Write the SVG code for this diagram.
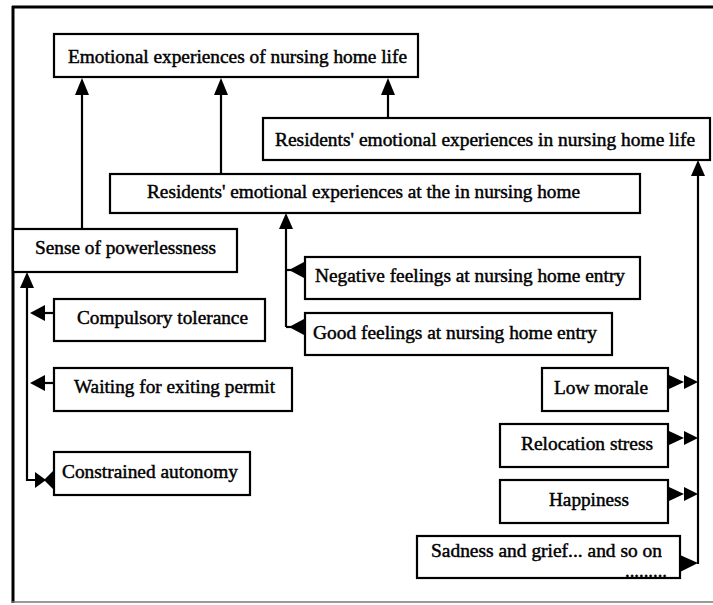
<svg xmlns="http://www.w3.org/2000/svg" width="713" height="605" viewBox="0 0 713 605">
<style>
.box{fill:#fff;stroke:#000;stroke-width:2.2}
.t{font-family:"Liberation Serif","Times New Roman",serif;font-size:19px;fill:#000;stroke:#000;stroke-width:0.45}
.ln{fill:none;stroke:#000;stroke-width:2.2}
.ah{fill:#000;stroke:none}
</style>
<rect x="0" y="0" width="713" height="605" fill="#fff"/>
<g id="frame">
<line x1="12" y1="7" x2="713" y2="7" stroke="#000" stroke-width="3"/>
<line x1="13" y1="6" x2="13" y2="603" stroke="#000" stroke-width="3"/>
<line x1="12" y1="602" x2="713" y2="602" stroke="#777" stroke-width="1.5"/>
</g>
<g id="connectors">
<line class="ln" x1="82" y1="229" x2="82" y2="92"/>
<polygon class="ah" points="82,78 75,95 89,95"/>
<line class="ln" x1="221" y1="174" x2="221" y2="92"/>
<polygon class="ah" points="221,78 214,95 228,95"/>
<line class="ln" x1="388" y1="118" x2="388" y2="92"/>
<polygon class="ah" points="388,78 381,95 395,95"/>
<polyline class="ln" points="27,285 27,480 36,480"/>
<polygon class="ah" points="27,272 20,288 34,288"/>
<line class="ln" x1="42" y1="313" x2="54" y2="313"/>
<polygon class="ah" points="30,313 45,305 45,321"/>
<line class="ln" x1="42" y1="383" x2="54" y2="383"/>
<polygon class="ah" points="30,383 45,375 45,391"/>
<polygon class="ah" points="35,472 46,480 35,488"/>
<polygon class="ah" points="54,470 44,480 54,490"/>
<line class="ln" x1="286" y1="226" x2="286" y2="327"/>
<polygon class="ah" points="286,213 279,229 293,229"/>
<line class="ln" x1="286" y1="270" x2="305" y2="270"/>
<polygon class="ah" points="289,270 304,262 304,278"/>
<line class="ln" x1="286" y1="327" x2="305" y2="327"/>
<polygon class="ah" points="289,327 304,319 304,335"/>
<line class="ln" x1="698" y1="172" x2="698" y2="564"/>
<polygon class="ah" points="698,160 691,176 705,176"/>
<polygon class="ah" points="669,375 684,382 669,389"/>
<polygon class="ah" points="684,375 698,382 684,389"/>
<polygon class="ah" points="669,431 684,438 669,445"/>
<polygon class="ah" points="684,431 698,438 684,445"/>
<polygon class="ah" points="669,487 684,494 669,501"/>
<polygon class="ah" points="684,487 698,494 684,501"/>
<polygon class="ah" points="680,555 698,563 680,572"/>
</g>
<g id="n-top"><rect class="box" x="54" y="34" width="364" height="43"/><text class="t" x="68" y="63" textLength="339" lengthAdjust="spacingAndGlyphs">Emotional experiences of nursing home life</text></g>
<g id="n-life"><rect class="box" x="263" y="118" width="447" height="42"/><text class="t" x="275" y="146" textLength="420" lengthAdjust="spacingAndGlyphs">Residents' emotional experiences in nursing home life</text></g>
<g id="n-at"><rect class="box" x="110" y="174" width="530" height="39"/><text class="t" x="147" y="198" textLength="433" lengthAdjust="spacingAndGlyphs">Residents' emotional experiences at the in nursing home</text></g>
<g id="n-power"><rect class="box" x="13" y="229" width="224" height="43"/><text class="t" x="35" y="254" textLength="181" lengthAdjust="spacingAndGlyphs">Sense of powerlessness</text></g>
<g id="n-comp"><rect class="box" x="54" y="299" width="211" height="42"/><text class="t" x="77" y="324" textLength="171" lengthAdjust="spacingAndGlyphs">Compulsory tolerance</text></g>
<g id="n-neg"><rect class="box" x="305" y="257" width="335" height="42"/><text class="t" x="315" y="282" textLength="310" lengthAdjust="spacingAndGlyphs">Negative feelings at nursing home entry</text></g>
<g id="n-good"><rect class="box" x="305" y="313" width="307" height="42"/><text class="t" x="313" y="339" textLength="284" lengthAdjust="spacingAndGlyphs">Good feelings at nursing home entry</text></g>
<g id="n-wait"><rect class="box" x="54" y="368" width="238" height="43"/><text class="t" x="74" y="393" textLength="201" lengthAdjust="spacingAndGlyphs">Waiting for exiting permit</text></g>
<g id="n-cons"><rect class="box" x="54" y="452" width="196" height="43"/><text class="t" x="62" y="478" textLength="176" lengthAdjust="spacingAndGlyphs">Constrained autonomy</text></g>
<g id="n-low"><rect class="box" x="542" y="368" width="126" height="43"/><text class="t" x="554" y="394" textLength="94" lengthAdjust="spacingAndGlyphs">Low morale</text></g>
<g id="n-reloc"><rect class="box" x="500" y="424" width="168" height="43"/><text class="t" x="521" y="450" textLength="132" lengthAdjust="spacingAndGlyphs">Relocation stress</text></g>
<g id="n-happy"><rect class="box" x="500" y="480" width="168" height="43"/><text class="t" x="549" y="506" textLength="80" lengthAdjust="spacingAndGlyphs">Happiness</text></g>
<g id="n-sad"><rect class="box" x="417" y="536" width="263" height="42"/><text class="t" x="431" y="557" textLength="231" lengthAdjust="spacingAndGlyphs">Sadness and grief... and so on</text><text class="t" x="625" y="576.5" font-size="12" textLength="42" lengthAdjust="spacingAndGlyphs">.........</text></g>
</svg>
